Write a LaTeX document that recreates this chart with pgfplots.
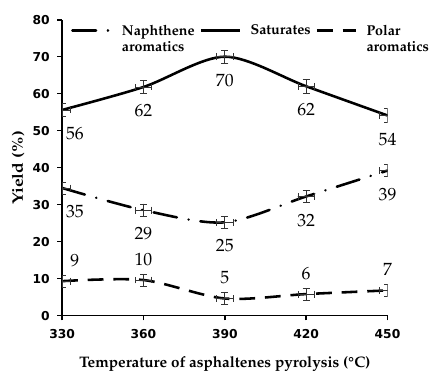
\documentclass[border=0pt]{standalone}
\usepackage{fontspec}
\newfontfamily\tickfont{DejaVu Sans}
\usepackage[T1]{fontenc}
\usepackage{mathpazo}
\usepackage{pgfplots}
\usepackage{pgfplotstable}
\usepackage{graphicx}
\pgfplotsset{compat=1.18}

\pgfplotstableread{
x y lab
330 34.5 35
360 28.5 29
390 25.2 25
420 32.2 32
450 39.2 39
}\naph
\pgfplotstableread{
x y lab
330 55.6 56
360 61.8 62
390 70.0 70
420 62.0 62
450 54.1 54
}\sat
\pgfplotstableread{
x y lab
330 9.3 9
360 9.6 10
390 4.6 5
420 5.8 6
450 6.8 7
}\polar

\begin{document}
\begin{tikzpicture}
\begin{axis}[
  scale only axis, width=330bp, height=300bp,
  xmin=330, xmax=450, ymin=0, ymax=80,
  xtick={330,360,...,450}, ytick={0,10,...,80},
  xticklabels={330,360,390,420,450},
  yticklabels={0,10,20,30,40,50,60,70,80},
  axis lines*=left, axis line style={line width=1.8bp, -},
  tick align=outside, major tick length=5bp,
  tick style={line width=1.6bp, black},
  tick label style={font=\fontsize{12.5}{14}\tickfont\bfseries},
  xticklabel style={yshift=-6bp},
  yticklabel style={xshift=-4bp},
  xlabel={Temperature of asphaltenes pyrolysis (\textdegree C)},
  ylabel={\scalebox{1.15}[1]{Yield (\%)}},
  label style={font=\fontsize{15.5}{17}\selectfont\bfseries},
  xlabel style={at={(axis description cs:0.5,-0.165)}, anchor=center},
  ylabel style={at={(axis description cs:-0.135,0.5)}, anchor=center},
  legend columns=3,
  legend cell align=left,
  legend style={draw=none, fill=none, at={(rel axis cs:0.027,0.998)}, anchor=north west,
    inner xsep=0bp,
    font=\fontsize{14.5}{16}\selectfont\bfseries,
    nodes={inner xsep=1bp},
    /tikz/every even column/.append style={column sep=4bp},
    /tikz/every odd column/.append style={column sep=8bp}},
  legend image code/.code={\draw[#1] (0bp,0bp) -- (40bp,0bp);},
  clip=true,
  every node near coord/.append style={font=\fontsize{18}{20}\selectfont, text=black},
  point meta=explicit symbolic,
  nodes near coords,
  visualization depends on={\thisrow{x} \as \rawx},
]
\addplot[black, line width=2.6bp, smooth, line cap=round,
  dash pattern=on 24bp off 12bp on 0.1bp off 12bp,
  nodes near coords style={anchor=center, yshift=-24bp, xshift={(\rawx<340)*13}},
  error bars/.cd, x dir=both, x fixed=3, y dir=both, y fixed=1.6,
  error bar style={solid, line width=0.7bp, black!80},
  error mark options={rotate=90, solid, mark size=3.5bp, line width=0.7bp, black!80}]
  table[x=x, y=y, meta=lab] {\naph};
\addlegendentry{\begin{tabular}[t]{@{}l@{}}Naphthene\\aromatics\end{tabular}}
\addplot[black, line width=2.6bp, smooth,
  nodes near coords style={anchor=center, yshift=-24bp, xshift={(\rawx<340)*13}},
  error bars/.cd, x dir=both, x fixed=3, y dir=both, y fixed=1.8,
  error bar style={solid, line width=0.7bp, black!80},
  error mark options={rotate=90, solid, mark size=3.5bp, line width=0.7bp, black!80}]
  table[x=x, y=y, meta=lab] {\sat};
\addlegendentry{Saturates}
\addplot[black, line width=2.6bp, smooth,
  dash pattern=on 16bp off 10bp,
  nodes near coords style={anchor=center, yshift=21bp, xshift={(\rawx<340)*13}},
  error bars/.cd, x dir=both, x fixed=3, y dir=both, y fixed=1.6,
  error bar style={solid, line width=0.7bp, black!80},
  error mark options={rotate=90, solid, mark size=3.5bp, line width=0.7bp, black!80}]
  table[x=x, y=y, meta=lab] {\polar};
\addlegendentry{\begin{tabular}[t]{@{}l@{}}Polar\\aromatics\end{tabular}}
\end{axis}
\path (-63bp,-61bp) rectangle (367bp,320bp);
\end{tikzpicture}
\end{document}
